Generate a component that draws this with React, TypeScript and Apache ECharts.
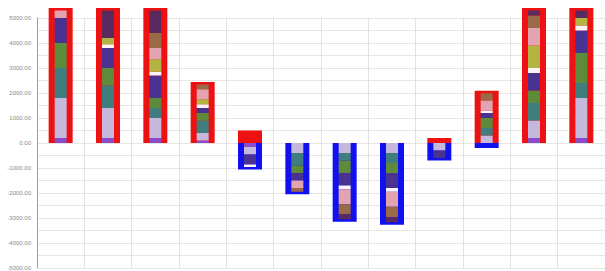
import React, { useEffect, useRef } from "react";
import * as echarts from "echarts";

const months = ["Jan", "Feb", "Mar", "Apr", "May", "Jun", "Jul", "Aug", "Sep", "Oct", "Nov", "Dec"];

// Outline (net) values
const upTotals = [5400, 5400, 5400, 2440, 500, 0, 0, 0, 200, 2090, 5400, 5400];
const downTotals = [0, 0, 0, 0, -1060, -2050, -3150, -3270, -700, -200, 0, 0];

// Inner stacked segments
const segViolet = [200, 200, 200, 100, -160, 0, 0, 0, 0, 0, 200, 200];
const segLavender = [1600, 1200, 800, 300, -300, -400, -400, -400, -300, 300, 700, 1600];
const segTeal = [1200, 900, 400, 500, 0, -500, -300, -400, 0, 300, 700, 600];
const segOlive = [1000, 700, 400, 300, 0, -300, -500, -400, 0, 400, 500, 1200];
const segIndigo = [1000, 800, 900, 200, -400, -300, -500, -600, -300, 200, 700, 900];
const segWhite = [0, 150, 150, 150, -100, 0, -150, -150, 0, 100, 200, 200];
const segYellow = [0, 250, 500, 200, 0, 0, 0, 0, 0, 0, 900, 300];
const segPink = [300, 0, 450, 400, 0, -300, -600, -600, 0, 400, 700, 0];
const segBrown = [0, 0, 600, 190, 0, -150, -400, -420, 0, 290, 500, 0];
const segPlum = [0, 1100, 900, 0, 0, 0, -200, -200, 0, 0, 200, 300];

const segments = [
  { name: "Violet", data: segViolet, color: "#8a4cc8" },
  { name: "Lavender", data: segLavender, color: "#c6b8dc" },
  { name: "Teal", data: segTeal, color: "#3f7d7f" },
  { name: "Olive", data: segOlive, color: "#5e8a3c" },
  { name: "Indigo", data: segIndigo, color: "#4a3290" },
  { name: "White", data: segWhite, color: "#fbf3f5" },
  { name: "Yellow", data: segYellow, color: "#b4b444" },
  { name: "Pink", data: segPink, color: "#e2a4b0" },
  { name: "Brown", data: segBrown, color: "#9a6a48" },
  { name: "Plum", data: segPlum, color: "#5a2a5e" },
];

export default function App() {
  const ref = useRef<HTMLDivElement>(null);
  useEffect(() => {
    if (!ref.current) return;
    const chart = echarts.init(ref.current, null, { renderer: "svg" });
    chart.setOption({
      animation: false,
      backgroundColor: "#ffffff",
      grid: { left: 37, right: 0, top: 18, bottom: 0, containLabel: false },
      xAxis: [
        {
          type: "category",
          data: months,
          axisLabel: { show: false },
          axisTick: { show: false },
          axisLine: { show: false },
          splitLine: { show: true, lineStyle: { color: "#e2e2e2", width: 1 } },
        },
        {
          type: "category",
          data: months,
          show: false,
        },
      ],
      yAxis: {
        type: "value",
        min: -5000,
        max: 5000,
        interval: 500,
        axisLine: { show: true, lineStyle: { color: "#a0a0a0" } },
        axisTick: { show: false },
        splitLine: { show: true, lineStyle: { color: "#e6e6e6", width: 1 } },
        axisLabel: {
          fontSize: 6,
          color: "#888",
          margin: 6,
          formatter: (v: number) => (Math.abs(v) % 1000 === 0 ? v.toFixed(2) : ""),
        },
      },
      series: [
        {
          name: "Up",
          type: "bar",
          xAxisIndex: 0,
          stack: "tot",
          barWidth: 24,
          clip: false,
          data: upTotals,
          itemStyle: { color: "#ee1111" },
        },
        {
          name: "Down",
          type: "bar",
          xAxisIndex: 0,
          stack: "tot",
          barWidth: 24,
          clip: false,
          data: downTotals,
          itemStyle: { color: "#1111ee" },
        },
        ...segments.map((s) => ({
          name: s.name,
          type: "bar",
          xAxisIndex: 1,
          stack: "seg",
          barWidth: 12,
          clip: false,
          data: s.data,
          itemStyle: { color: s.color },
        })),
      ],
    });
    return () => chart.dispose();
  }, []);
  return (
    <div
      ref={ref}
      style={{ position: "absolute", left: 0, top: 0, width: 605, height: 271 }}
    />
  );
}
